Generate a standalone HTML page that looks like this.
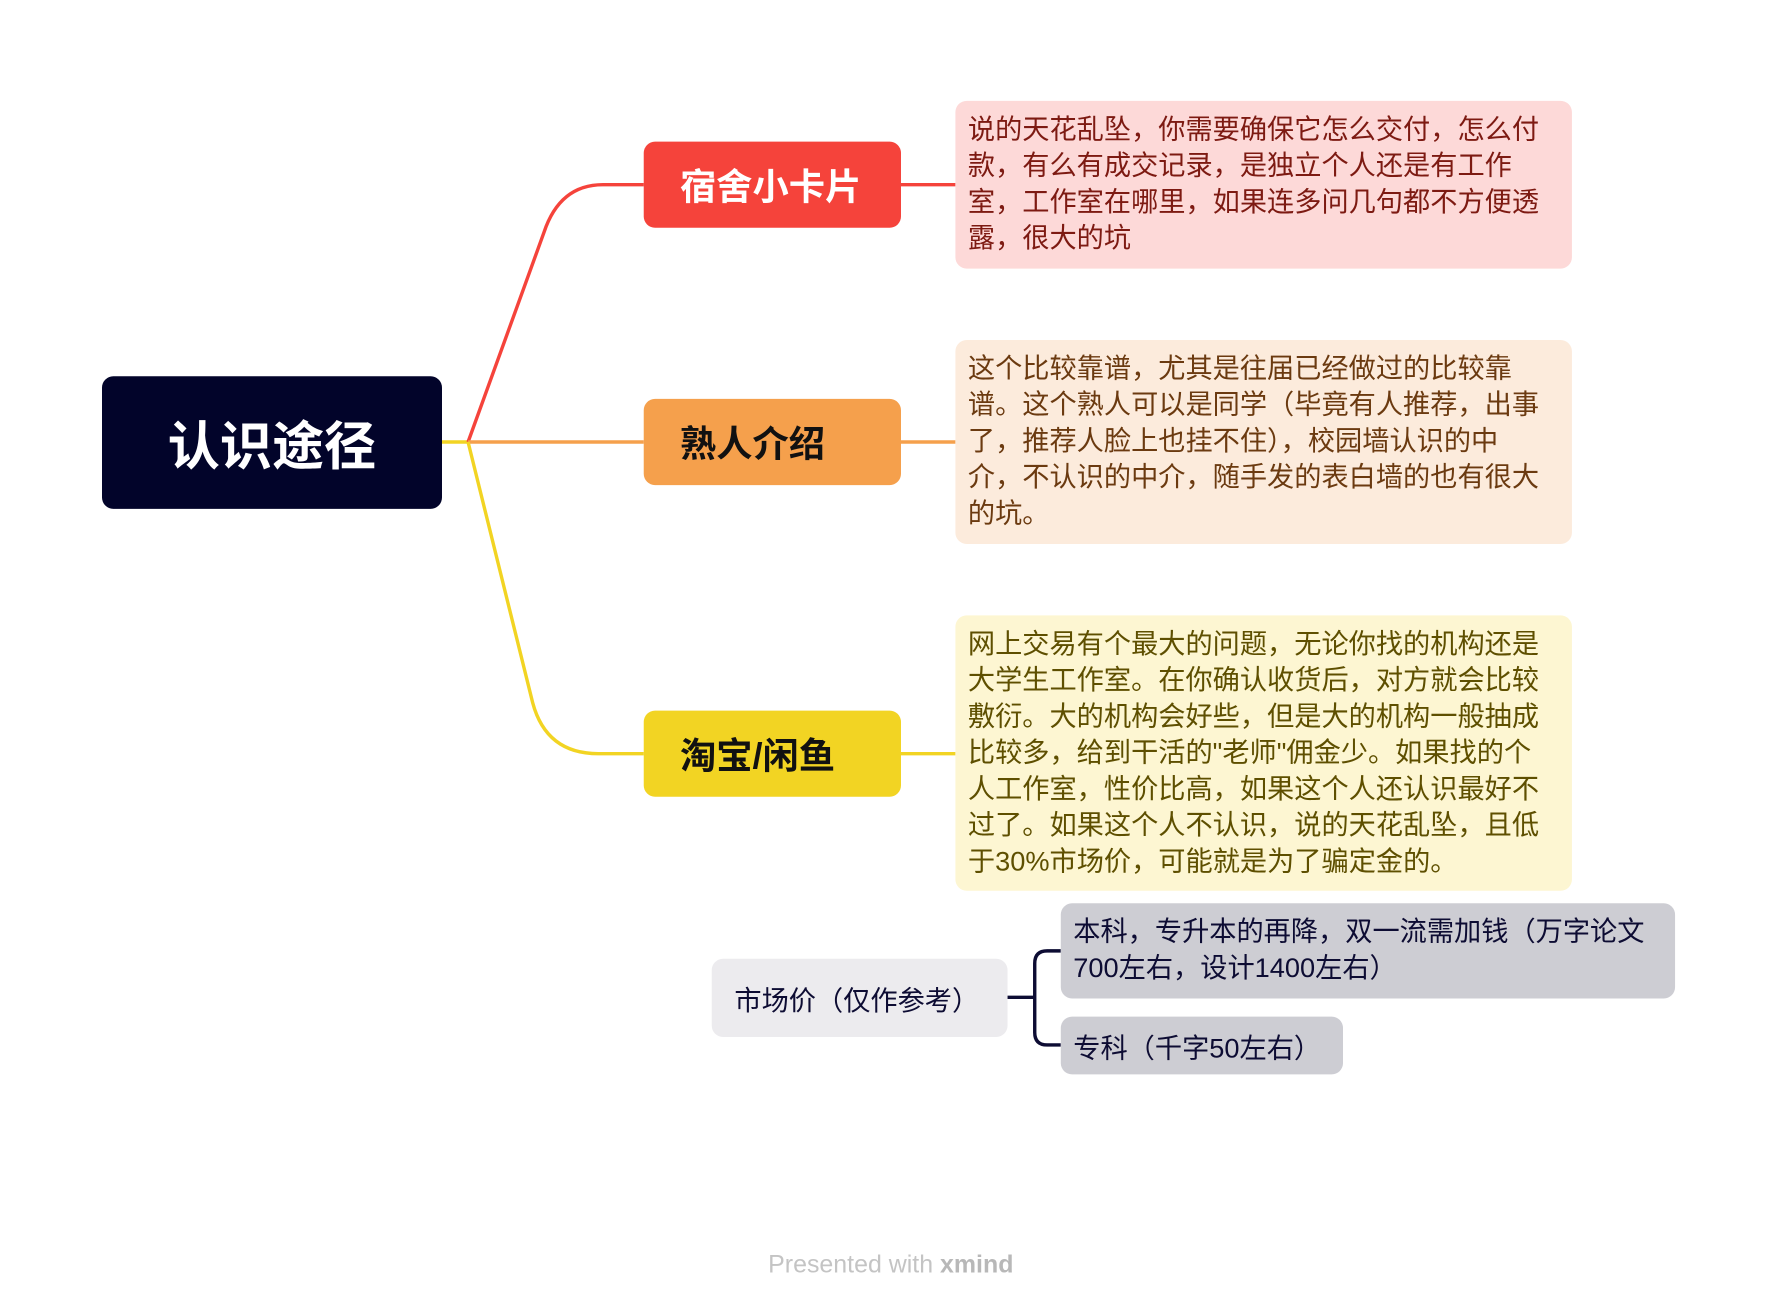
<!DOCTYPE html>
<html><head><meta charset="utf-8"><style>
html,body{margin:0;padding:0;background:#fff;}
body{width:1768px;height:1310px;overflow:hidden;position:relative;font-family:"Liberation Sans","Noto Sans CJK SC",sans-serif;}
#w{position:absolute;left:0;top:0;width:1560px;height:1156px;transform:scale(1.13333);transform-origin:0 0;}
.b{position:absolute;box-sizing:border-box;}
.n{border-radius:10px;font-weight:bold;font-size:32px;display:flex;align-items:center;padding-left:32px;}
.note{border-radius:10px;font-size:24px;line-height:32px;padding:10px 0 0 11px;white-space:nowrap;}
</style></head><body><div id="w">
<svg width="1560" height="1156" style="position:absolute;left:0;top:0">
<path d="M390 390 L413 390" stroke="#f2d423" stroke-width="3" fill="none"/>
<path d="M413 390 L480 205 Q494 163 532 163 L568 163" stroke="#f5433b" stroke-width="3" fill="none"/>
<path d="M413 390 L568 390" stroke="#f5a04c" stroke-width="3" fill="none"/>
<path d="M413 390 L470 620 Q482 665 528 665 L568 665" stroke="#f2d423" stroke-width="3" fill="none"/>
<path d="M795 163 L843 163" stroke="#f5433b" stroke-width="3"/>
<path d="M795 390 L843 390" stroke="#f5a04c" stroke-width="3"/>
<path d="M795 665 L843 665" stroke="#f2d423" stroke-width="3"/>
<path d="M889 880 L913 880 M936 839 L924 839 Q913 839 913 850 L913 911 Q913 922 924 922 L936 922" stroke="#0d0c33" stroke-width="3" fill="none"/>
</svg>
<div class="b" style="left:90px;top:332px;width:300px;height:117px;background:#02042a;border-radius:10px;color:#fff;font-weight:bold;font-size:46px;display:flex;align-items:center;justify-content:center;">认识途径</div>
<div class="b n" style="left:568px;top:125px;width:227px;height:76px;background:#f5433b;color:#fff;">宿舍小卡片</div>
<div class="b n" style="left:568px;top:352px;width:227px;height:76px;background:#f5a04c;color:#111;">熟人介绍</div>
<div class="b n" style="left:568px;top:627px;width:227px;height:76px;background:#f2d423;color:#111;">淘宝/闲鱼</div>
<div class="b note" style="left:843px;top:89px;width:544px;height:148px;background:#fdd9d8;color:#7d1a12;">说的天花乱坠，你需要确保它怎么交付，怎么付<br>款，有么有成交记录，是独立个人还是有工作<br>室，工作室在哪里，如果连多问几句都不方便透<br>露，很大的坑</div>
<div class="b note" style="left:843px;top:300px;width:544px;height:180px;background:#fcebdc;color:#6b3a10;">这个比较靠谱，尤其是往届已经做过的比较靠<br>谱。这个熟人可以是同学（毕竟有人推荐，出事<br>了，推荐人脸上也挂不住），校园墙认识的中<br>介，不认识的中介，随手发的表白墙的也有很大<br>的坑。</div>
<div class="b note" style="left:843px;top:543px;width:544px;height:243px;background:#fdf6d2;color:#5e4f00;">网上交易有个最大的问题，无论你找的机构还是<br>大学生工作室。在你确认收货后，对方就会比较<br>敷衍。大的机构会好些，但是大的机构一般抽成<br>比较多，给到干活的"老师"佣金少。如果找的个<br>人工作室，性价比高，如果这个人还认识最好不<br>过了。如果这个人不认识，说的天花乱坠，且低<br>于30%市场价，可能就是为了骗定金的。</div>
<div class="b" style="left:628px;top:846px;width:261px;height:69px;background:#ecebee;border-radius:10px;color:#0d0c33;font-size:24px;display:flex;align-items:center;padding-left:20px;">市场价（仅作参考）</div>
<div class="b" style="left:936px;top:797px;width:542px;height:84px;background:#cdcdd3;border-radius:10px;color:#0d0c33;font-size:24px;line-height:32px;padding:10px 0 0 11px;white-space:nowrap;">本科，专升本的再降，双一流需加钱（万字论文<br>700左右，设计1400左右）</div>
<div class="b" style="left:936px;top:897px;width:249px;height:51px;background:#cdcdd3;border-radius:10px;color:#0d0c33;font-size:24px;display:flex;align-items:center;padding-left:11px;">专科（千字50左右）</div>
<div class="b" style="left:600px;top:1103px;width:372px;text-align:center;font-size:22px;color:#c4c4c4;">Presented with <b style="color:#b8b8b8">xmind</b></div>
</div></body></html>
